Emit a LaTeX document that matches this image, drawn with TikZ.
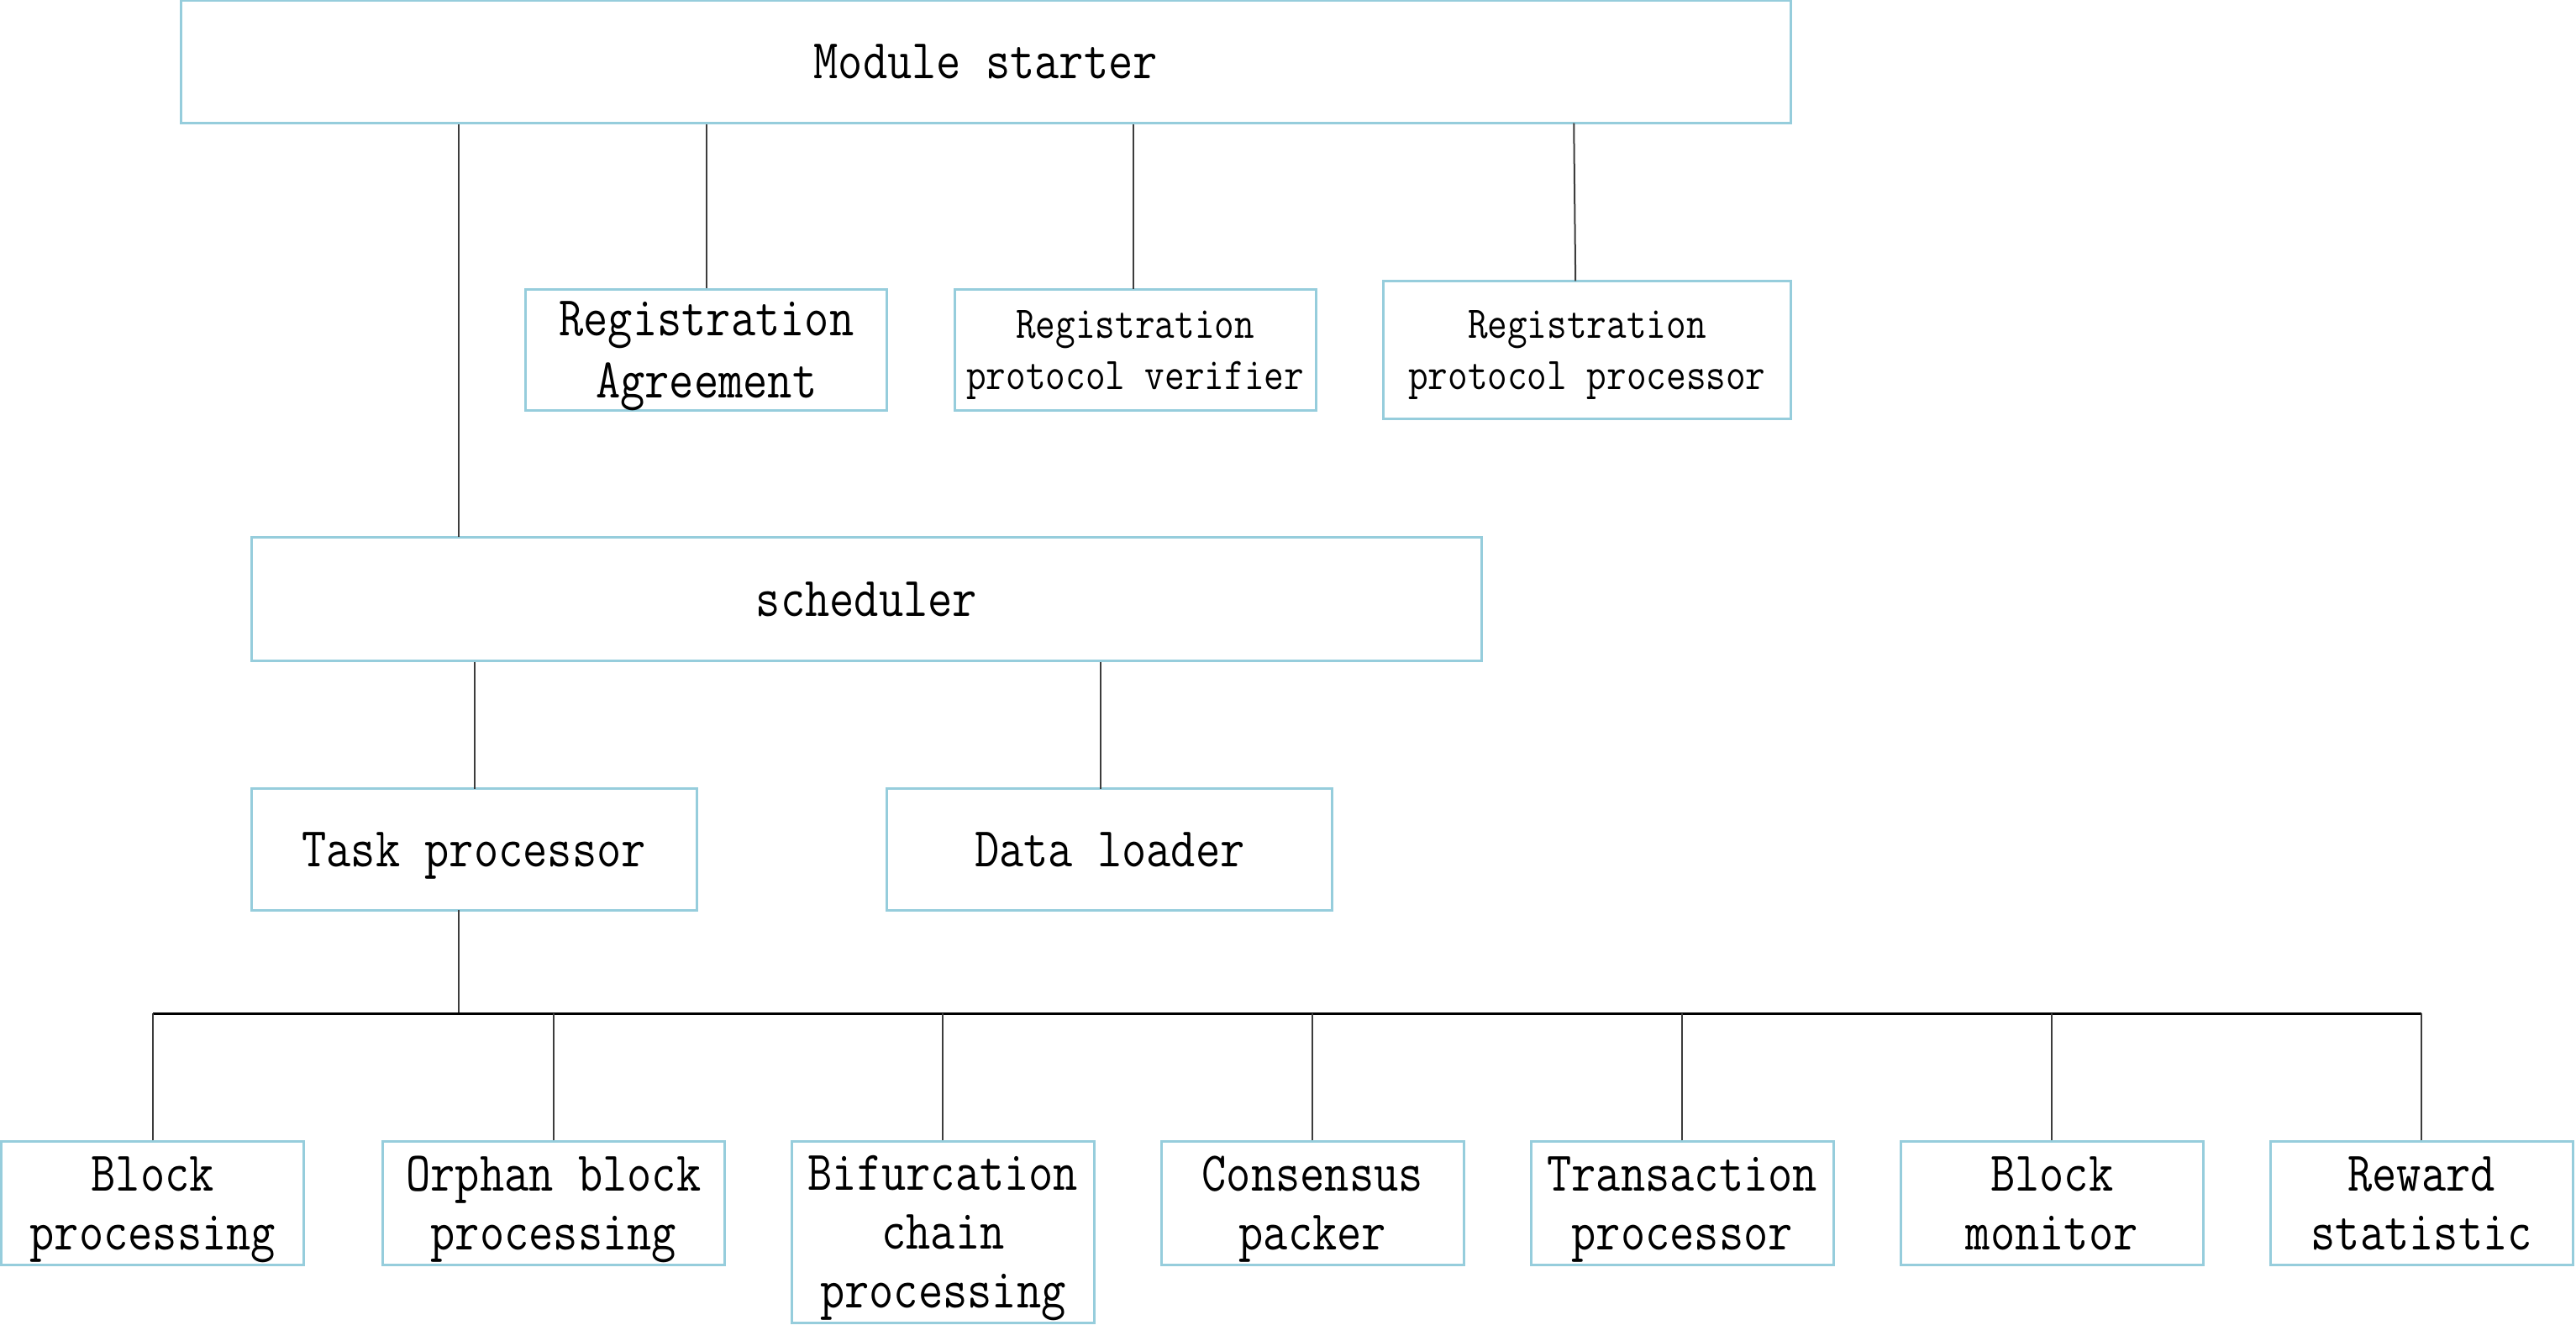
\documentclass[tikz,border=0pt]{standalone}
\usepackage{fontspec}
\newfontfamily\boxfont{Latin Modern Mono}[FakeStretch=0.85]
\newlength\pxu
\setlength\pxu{0.48885pt}
\newcommand\lnstrut{\rule[-0.216em]{0pt}{1.042em}}
\definecolor{boxblue}{RGB}{150,205,220}
\definecolor{linegray}{RGB}{60,60,60}
\tikzset{
  bx/.style={draw=boxblue, line width=0.75pt, fill=white, inner sep=0pt, align=center,
    font=\boxfont\fontsize{16.7}{17.6}\selectfont},
  smalltext/.style={font=\boxfont\fontsize{13.5}{14.2}\selectfont},
  conn/.style={draw=linegray, line width=0.5pt},
  bus/.style={draw=black, line width=0.6pt},
}
\begin{document}
\begin{tikzpicture}[x=0.48885pt, y=-0.48885pt]
\useasboundingbox (0,0) rectangle (1568,816);
% top
\node[bx, minimum width={980*\pxu}, minimum height={75*\pxu}] (mod) at (600,37.5) {\lnstrut Module starter};
\node[bx, minimum width={220*\pxu}, minimum height={74*\pxu}] (ra) at (430,213) {\lnstrut Registration\\\lnstrut Agreement};
\node[bx, smalltext, minimum width={220*\pxu}, minimum height={74*\pxu}] (rpv) at (691,213) {\lnstrut Registration\\\lnstrut protocol verifier};
\node[bx, smalltext, minimum width={248*\pxu}, minimum height={84*\pxu}] (rpp) at (966,213) {\lnstrut Registration\\\lnstrut protocol processor};
% scheduler
\node[bx, minimum width={749*\pxu}, minimum height={75*\pxu}] (sch) at (527.5,364.5) {\lnstrut scheduler};
\node[bx, minimum width={271*\pxu}, minimum height={74*\pxu}] (tp) at (288.5,517) {\lnstrut Task processor};
\node[bx, minimum width={271*\pxu}, minimum height={74*\pxu}] (dl) at (675.5,517) {\lnstrut Data loader};
% bottom row
\node[bx, minimum width={184*\pxu}, minimum height={75*\pxu}] (b1) at (93,732.5) {\lnstrut Block\\\lnstrut processing};
\node[bx, minimum width={208*\pxu}, minimum height={75*\pxu}] (b2) at (337,732.5) {\lnstrut Orphan block\\\lnstrut processing};
\node[bx, minimum width={184*\pxu}, minimum height={110*\pxu}] (b3) at (574,750) {\lnstrut Bifurcation\\\lnstrut chain\\\lnstrut processing};
\node[bx, minimum width={184*\pxu}, minimum height={75*\pxu}] (b4) at (799,732.5) {\lnstrut Consensus\\\lnstrut packer};
\node[bx, minimum width={184*\pxu}, minimum height={75*\pxu}] (b5) at (1024,732.5) {\lnstrut Transaction\\\lnstrut processor};
\node[bx, minimum width={184*\pxu}, minimum height={75*\pxu}] (b6) at (1249,732.5) {\lnstrut Block\\\lnstrut monitor};
\node[bx, minimum width={184*\pxu}, minimum height={75*\pxu}] (b7) at (1474,732.5) {\lnstrut Reward\\\lnstrut statistic};
% connectors from module starter
\coordinate (cs) at (279,327);
\coordinate (crpv) at (690,176);
\coordinate (crpp) at (959,171);
\coordinate (crppt) at (958,75);
\draw[conn] (cs) -- (cs |- mod.south);
\draw[conn] (ra.north) -- (ra.north |- mod.south);
\draw[conn] (crpv) -- (crpv |- mod.south);
\draw[conn] (crpp) -- (crppt);
% scheduler connectors
\coordinate (ctp) at (289,480);
\coordinate (cdl) at (670,480);
\draw[conn] (ctp) -- (ctp |- sch.south);
\draw[conn] (cdl) -- (cdl |- sch.south);
% bus
\coordinate (ctpb) at (279,554);
\coordinate (busy) at (279,617);
\draw[conn] (ctpb) -- (busy);
\draw[bus] (b1.north |- busy) -- (b7.north |- busy);
\foreach \b in {b1,b2,b3,b4,b5,b6,b7}{
  \draw[conn] (\b.north) -- (\b.north |- busy);
}
\end{tikzpicture}
\end{document}
